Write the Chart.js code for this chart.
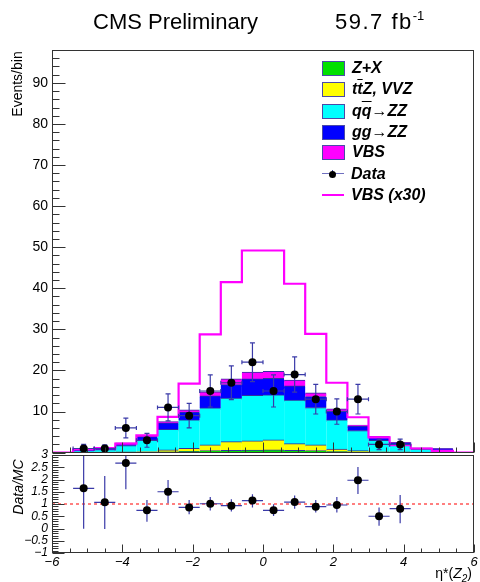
<!DOCTYPE html>
<html>
<head>
<meta charset="utf-8">
<script src="https://cdn.jsdelivr.net/npm/chart.js@4.4.1/dist/chart.umd.min.js"></script>
<style>
  html, body { margin: 0; padding: 0; background: #fff; }
  #wrap { position: relative; width: 480px; height: 582px; overflow: hidden;
          font-family: "Liberation Sans", Arial, sans-serif; color: #000; }
  canvas { position: absolute; left: 0; }
  #cMain { top: 0; }
  #cRatio { top: 440px; }
  .txt { position: absolute; white-space: nowrap; line-height: 1; }
  .rot { position: absolute; width: 120px; text-align: center; line-height: 1;
         transform: rotate(-90deg); white-space: nowrap; }
  .leg { position: absolute; left: 322px; height: 20px; display: flex; align-items: center;
         font-weight: bold; font-style: italic; font-size: 16px; }
  .sw { width: 21px; height: 13px; border: 1px solid #4a4aa8; margin-right: 7px; }
  .ov { text-decoration: overline; }
  .mk { position: relative; width: 22px; height: 20px; margin-right: 7px; }
</style>
</head>
<body>
<div id="wrap">
  <canvas id="cMain" width="480" height="465"></canvas>
  <canvas id="cRatio" width="480" height="142"></canvas>

  <div class="txt" style="left:93px; top:11px; font-size:22px;">CMS Preliminary</div>
  <div class="txt" style="left:335px; top:11px; font-size:22px; letter-spacing:1.5px;">59.7 fb<span style="font-size:13px; position:relative; top:-9px; letter-spacing:0;">-1</span></div>

  <div class="rot" style="left:-43px; top:77px; font-size:14px;">Events/bin</div>
  <div class="rot" style="left:-42px; top:480px; font-size:14px; font-style:italic;">Data/MC</div>
  <div class="txt" style="right:8px; top:566px; font-size:14px;">η*(<i>Z</i><sub style="font-size:10px; font-style:italic;">2</sub>)</div>

  <div class="leg" style="top:58px;"><span class="sw" style="background:#00e000"></span>Z+X</div>
  <div class="leg" style="top:79px;"><span class="sw" style="background:#ffff00"></span>t<span class="ov">t</span>Z, VVZ</div>
  <div class="leg" style="top:101px;"><span class="sw" style="background:#00ffff"></span>q<span class="ov">q</span><span style="font-weight:normal;font-style:normal;">→</span>ZZ</div>
  <div class="leg" style="top:122px;"><span class="sw" style="background:#0000ff"></span>gg<span style="font-weight:normal;font-style:normal;">→</span>ZZ</div>
  <div class="leg" style="top:142px;"><span class="sw" style="background:#ff00ff"></span>VBS</div>
  <div class="leg" style="top:164px;"><span class="mk">
      <span style="position:absolute;left:0;top:9px;width:22px;height:1px;background:#7070c0"></span>
      <span style="position:absolute;left:10px;top:6px;width:1px;height:8px;background:#4040a0"></span>
      <span style="position:absolute;left:7px;top:7px;width:7px;height:7px;border-radius:50%;background:#000"></span>
    </span>Data</div>
  <div class="leg" style="top:185px;"><span class="mk">
      <span style="position:absolute;left:0;top:9px;width:22px;height:2px;background:#ff00ff"></span>
    </span>VBS (x30)</div>
</div>

<script>
// ── Data ─────────────────────────────────────────────────────────────────────

const BIN_EDGES   = [-5.4, -4.8, -4.2, -3.6, -3.0, -2.4, -1.8, -1.2, -0.6, 0, 0.6, 1.2, 1.8, 2.4, 3.0, 3.6, 4.2, 4.8, 5.4];
const BIN_CENTERS = [-5.1, -4.5, -3.9, -3.3, -2.7, -2.1, -1.5, -0.9, -0.3, 0.3, 0.9, 1.5, 2.1, 2.7, 3.3, 3.9, 4.5, 5.1];

const ZX    = [0.01, 0.02, 0.03, 0.05, 0.15, 0.25, 0.45, 0.5, 0.55, 0.6, 0.5, 0.45, 0.2, 0.1, 0.05, 0.03, 0.01, 0.01];
const TTZ   = [0.02, 0.04, 0.07, 0.15, 0.45, 0.75, 1.4, 2.1, 2.25, 2.45, 1.6, 1.4, 0.6, 0.3, 0.1, 0.07, 0.03, 0.01];
const QQZZ  = [0.32, 0.6, 1.55, 2.8, 5.0, 6.9, 9.0, 10.6, 11.1, 10.95, 10.6, 9.05, 7.1, 4.9, 2.8, 1.75, 0.75, 0.6];
const GGZZ  = [0.24, 0.26, 0.58, 0.86, 1.6, 1.9, 2.9, 3.3, 4.0, 4.0, 3.5, 2.7, 2.2, 1.1, 0.8, 0.55, 0.25, 0.3];
const VBS   = [0.03, 0.04, 0.07, 0.14, 0.29, 0.56, 0.96, 1.38, 1.64, 1.7, 1.37, 0.9, 0.5, 0.25, 0.12, 0.06, 0.03, 0.01];
const VBS_X30 = [0.8, 1.1, 2.2, 4.2, 8.7, 16.8, 28.8, 41.5, 49.2, 49.2, 41.1, 28.9, 17.0, 8.6, 3.7, 1.8, 1.0, 0.4];

const DATA     = [1, 1, 6, 3, 11, 9, 15, 17, 22, 15, 19, 13, 10, 13, 2, 2, null, null];
const DATA_ERR = [1.0, 0.9, 2.4, 1.7, 3.3, 3.0, 3.9, 4.1, 4.7, 3.9, 4.3, 3.6, 3.1, 3.6, 1.3, 1.3, null, null];

const RATIO          = [1.64, 1.07, 2.67, 0.74, 1.50, 0.86, 1.01, 0.93, 1.14, 0.74, 1.08, 0.89, 0.96, 1.97, 0.50, 0.81, null, null];
const RATIO_ERR_UP   = [1.7, 1.07, 1.1, 0.42, 0.48, 0.30, 0.28, 0.26, 0.26, 0.25, 0.27, 0.27, 0.33, 0.54, 0.36, 0.56, null, null];
const RATIO_ERR_DOWN = [1.65, 1.09, 1.07, 0.46, 0.47, 0.28, 0.28, 0.24, 0.28, 0.23, 0.27, 0.24, 0.31, 0.56, 0.39, 0.60, null, null];

const X_TICK_LABELS     = [-6, -4, -2, 0, 2, 4, 6];
const MAIN_Y_LABELS     = [10, 20, 30, 40, 50, 60, 70, 80, 90];
const RATIO_Y_LABELS    = [-1, -0.5, 0, 0.5, 1, 1.5, 2, 2.5, 3];

// ── Style ─────────────────────────────────────────────────────────────────────

const FONT = '"Liberation Sans", Arial, sans-serif';
const AXIS_COLOR = '#333';
const ERR_COLOR = '#3a3aa8';
const OUTLINE = '#3030a0';
const HALF_BIN = 0.3;

const pts = (xs, ys) => xs.map((x, i) => ({ x, y: ys[i] }));
const minus = v => (v < 0 ? '\u2212' : '') + Math.abs(v);
const fixedTicks = list => s => { s.ticks = list.map(v => ({ value: v })); };

function stepPoints(vals) {
  const p = [{ x: -6, y: 0 }];
  vals.forEach((v, i) => p.push({ x: BIN_EDGES[i], y: v }));
  p.push({ x: BIN_EDGES[BIN_EDGES.length - 1], y: 0 });
  p.push({ x: 6, y: 0 });
  return p;
}

function ticksAlong(c) {
  const n = Math.round((c.max - c.min) / c.minor);
  const out = [];
  for (let i = 0; i <= n; i++) {
    const v = c.min + i * c.minor;
    const r = v / c.major;
    out.push({ v, len: Math.abs(r - Math.round(r)) < 1e-6 ? c.majorLen : c.minorLen });
  }
  return out;
}

// ROOT-like frame with inward ticks, drawn over the histograms
const rootAxes = {
  id: 'rootAxes',
  afterDatasetsDraw(chart, args, o) {
    const { ctx, chartArea: a, scales } = chart;
    const L = Math.round(a.left) + 0.5, R = Math.round(a.right) - 0.5;
    const T = Math.round(a.top) + 0.5, B = Math.round(a.bottom) - 0.5;
    ctx.save();
    ctx.strokeStyle = AXIS_COLOR;
    ctx.lineWidth = 1;
    ctx.strokeRect(L, T, R - L, B - T);
    ctx.beginPath();
    ticksAlong(o.y).forEach(t => {
      const py = Math.round(scales.y.getPixelForValue(t.v)) + 0.5;
      ctx.moveTo(L, py); ctx.lineTo(L + t.len, py);
    });
    ticksAlong(o.x).forEach(t => {
      const px = Math.round(scales.x.getPixelForValue(t.v)) + 0.5;
      ctx.moveTo(px, B); ctx.lineTo(px, B - t.len);
    });
    ctx.stroke();
    ctx.restore();
  },
};

// error bars, drawn just before the marker dataset
const errorBars = {
  id: 'errorBars',
  beforeDatasetDraw(chart, args) {
    const ds = chart.data.datasets[args.index];
    if (!ds.errUp) return;
    const { ctx, chartArea: a, scales: { x, y } } = chart;
    ctx.save();
    ctx.beginPath();
    ctx.rect(a.left, a.top, a.right - a.left, a.bottom - a.top);
    ctx.clip();
    ctx.strokeStyle = ERR_COLOR;
    ctx.lineWidth = 1.2;
    ds.data.forEach((p, i) => {
      if (p.y == null) return;
      const px = x.getPixelForValue(p.x), py = y.getPixelForValue(p.y);
      const xl = x.getPixelForValue(p.x - HALF_BIN), xr = x.getPixelForValue(p.x + HALF_BIN);
      const yt = y.getPixelForValue(p.y + ds.errUp[i]);
      const yb = y.getPixelForValue(p.y - ds.errDown[i]);
      ctx.beginPath();
      ctx.moveTo(xl, py); ctx.lineTo(xr, py);
      ctx.moveTo(px, yt); ctx.lineTo(px, yb);
      if (ds.caps) {
        ctx.moveTo(px - 2.5, yt); ctx.lineTo(px + 2.5, yt);
        ctx.moveTo(px - 2.5, yb); ctx.lineTo(px + 2.5, yb);
        ctx.moveTo(xl, py - 2); ctx.lineTo(xl, py + 2);
        ctx.moveTo(xr, py - 2); ctx.lineTo(xr, py + 2);
      }
      ctx.stroke();
    });
    ctx.restore();
  },
};

const xTicksCfg = { min: -6, max: 6, minor: 0.5, major: 2 };

// ── Main panel ───────────────────────────────────────────────────────────────

const stackDef = [
  { label: 'Z+X', data: ZX, color: '#00e000' },
  { label: 'ttZ, VVZ', data: TTZ, color: '#ffff00' },
  { label: 'qq->ZZ', data: QQZZ, color: '#00ffff' },
  { label: 'gg->ZZ', data: GGZZ, color: '#0000ff' },
  { label: 'VBS', data: VBS, color: '#ff00ff' },
];

const stackDatasets = stackDef.map(s => ({
  type: 'bar',
  label: s.label,
  data: pts(BIN_CENTERS, s.data),
  backgroundColor: s.color,
  borderColor: OUTLINE,
  borderWidth: { top: 1, left: 0, right: 0, bottom: 0 },
  borderSkipped: 'start',
  inflateAmount: 0.6,
  barPercentage: 1,
  categoryPercentage: 1,
  stack: 'mc',
}));

new Chart(document.getElementById('cMain'), {
  type: 'bar',
  data: {
    datasets: [
      {
        type: 'scatter',
        label: 'Data',
        data: pts(BIN_CENTERS, DATA),
        errUp: DATA_ERR,
        errDown: DATA_ERR,
        caps: true,
        pointRadius: 4,
        pointBackgroundColor: '#000',
        pointBorderWidth: 0,
        stack: 'data',
      },
      {
        type: 'line',
        label: 'VBS (x30)',
        data: stepPoints(VBS_X30),
        borderColor: '#ff00ff',
        borderWidth: 2.2,
        pointRadius: 0,
        fill: false,
        stepped: 'before',
        stack: 'x30',
      },
      ...stackDatasets,
    ],
  },
  plugins: [errorBars, rootAxes],
  options: {
    responsive: false,
    animation: false,
    devicePixelRatio: 1,
    layout: { padding: { left: 12, right: 6, top: 50, bottom: 10 } },
    plugins: {
      legend: { display: false },
      tooltip: { enabled: false },
      rootAxes: {
        y: { min: 0, max: 98, minor: 2, major: 10, majorLen: 13, minorLen: 7 },
        x: { ...xTicksCfg, majorLen: 10, minorLen: 5 },
      },
    },
    scales: {
      x: { type: 'linear', min: -6, max: 6, stacked: true, offset: false, display: false },
      y: {
        stacked: true,
        min: 0,
        max: 98,
        afterFit: s => { s.width = 40; },
        afterBuildTicks: fixedTicks(MAIN_Y_LABELS),
        grid: { display: false, drawTicks: false },
        border: { display: false },
        ticks: { padding: 4, autoSkip: false, color: '#000', font: { family: FONT, size: 14 } },
      },
    },
  },
});

// ── Ratio panel ──────────────────────────────────────────────────────────────

new Chart(document.getElementById('cRatio'), {
  type: 'scatter',
  data: {
    datasets: [
      {
        label: 'Data/MC',
        data: pts(BIN_CENTERS, RATIO),
        errUp: RATIO_ERR_UP,
        errDown: RATIO_ERR_DOWN,
        caps: false,
        pointRadius: 4,
        pointBackgroundColor: '#000',
        pointBorderWidth: 0,
      },
      {
        type: 'line',
        label: 'unity',
        data: [{ x: -6, y: 1 }, { x: 6, y: 1 }],
        borderColor: '#ff0000',
        borderWidth: 1,
        borderDash: [3, 3],
        pointRadius: 0,
        fill: false,
      },
    ],
  },
  plugins: [errorBars, rootAxes],
  options: {
    responsive: false,
    animation: false,
    devicePixelRatio: 1,
    layout: { padding: { left: 12, right: 6, top: 15, bottom: 0 } },
    plugins: {
      legend: { display: false },
      tooltip: { enabled: false },
      rootAxes: {
        y: { min: -1, max: 3, minor: 0.1, major: 0.5, majorLen: 12, minorLen: 6 },
        x: { ...xTicksCfg, majorLen: 8, minorLen: 4 },
      },
    },
    scales: {
      x: {
        type: 'linear',
        min: -6,
        max: 6,
        afterFit: s => { s.height = 29; },
        afterBuildTicks: fixedTicks(X_TICK_LABELS),
        grid: { display: false, drawTicks: false },
        border: { display: false },
        ticks: {
          padding: 2, autoSkip: false, maxRotation: 0, color: '#000',
          callback: v => minus(v),
          font: { family: FONT, size: 13, style: 'italic' },
        },
      },
      y: {
        min: -1,
        max: 3,
        afterFit: s => { s.width = 40; },
        afterBuildTicks: fixedTicks(RATIO_Y_LABELS),
        grid: { display: false, drawTicks: false },
        border: { display: false },
        ticks: {
          padding: 4, autoSkip: false, color: '#000',
          callback: v => minus(v),
          font: { family: FONT, size: 12, style: 'italic' },
        },
      },
    },
  },
});
</script>
</body>
</html>
